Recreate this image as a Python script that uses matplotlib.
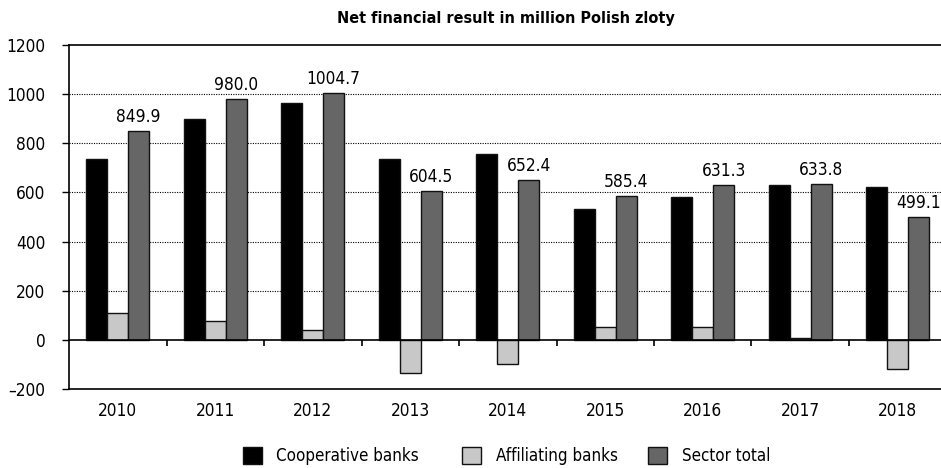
import matplotlib
matplotlib.use("Agg")
import matplotlib.pyplot as plt
import numpy as np
from matplotlib.patches import Patch

years = ["2010", "2011", "2012", "2013", "2014", "2015", "2016", "2017", "2018"]
cooperative = [737, 898, 965, 738, 756, 533, 581, 631, 624]
affiliating = [108, 77, 41, -136, -98, 52, 52, 7, -119]
sector_total = [849.9, 980.0, 1004.7, 604.5, 652.4, 585.4, 631.3, 633.8, 499.1]
yticks = [-200, 0, 200, 400, 600, 800, 1000, 1200]
ytick_labels = ["\u2013200", "0", "200", "400", "600", "800", "1000", "1200"]
series_names = ["Cooperative banks", "Affiliating banks", "Sector total"]
title = "Net financial result in million Polish zloty"

plt.rcParams['font.family'] = ['DejaVu Sans']
plt.rcParams['font.stretch'] = 'condensed'

fig = plt.figure(figsize=(9.41, 4.68), dpi=100)
ax = fig.add_axes([69/941, (468-389)/468, 877.5/941, (389-45)/468])

x = np.arange(len(years))
w = 0.215
colors = ["#000000", "#c8c8c8", "#666666"]
for vals, off, c in zip([cooperative, affiliating, sector_total], [-w, 0, w], colors):
    ax.bar(x + off, vals, width=w, color=c, edgecolor="#111111", linewidth=1.0, zorder=3)

for xi, v in zip(x, sector_total):
    ax.text(xi + w, v + 20, f"{v:.1f}", ha="center", va="bottom", fontsize=12.4, zorder=4)

ax.set_xlim(-0.5, len(years) - 0.5)
ax.set_ylim(-200, 1200)
ax.set_yticks(yticks)
ax.set_yticklabels(ytick_labels, fontsize=12.4)
ax.set_xticks(x)
ax.set_xticklabels(years, fontsize=12.4)
ax.tick_params(axis="x", length=0, pad=9)
ax.tick_params(axis="y", length=5, width=1.0, direction="out", pad=12)

for yv in [200, 400, 600, 800, 1000]:
    ax.axhline(yv, color="#000000", linestyle=(0, (1, 1.2)), linewidth=0.8, zorder=1)
ax.axhline(0, color="#000000", linewidth=1.2, zorder=4)
ax.vlines(x[:-1] + 0.5, -27, 0, color="#000000", linewidth=1.2, zorder=4)

for s in ["top", "bottom", "left"]:
    ax.spines[s].set_linewidth(1.2)
ax.spines["right"].set_visible(False)

fig.text(506/941, 1 - 18/468, title, ha="center", va="center", fontsize=11.6, fontweight="bold")

legend_x = [242.5, 462, 648]
for name, c, lx in zip(series_names, colors, legend_x):
    h = Patch(facecolor=c, edgecolor="#111111", linewidth=1.0)
    fig.legend([h], [name], loc="center left", bbox_to_anchor=(lx/941, 1 - 456/468),
               frameon=False, fontsize=12.2, handlelength=1.15, handleheight=1.15,
               handletextpad=0.85, borderpad=0, borderaxespad=0)

fig.savefig("out.png", dpi=100)
